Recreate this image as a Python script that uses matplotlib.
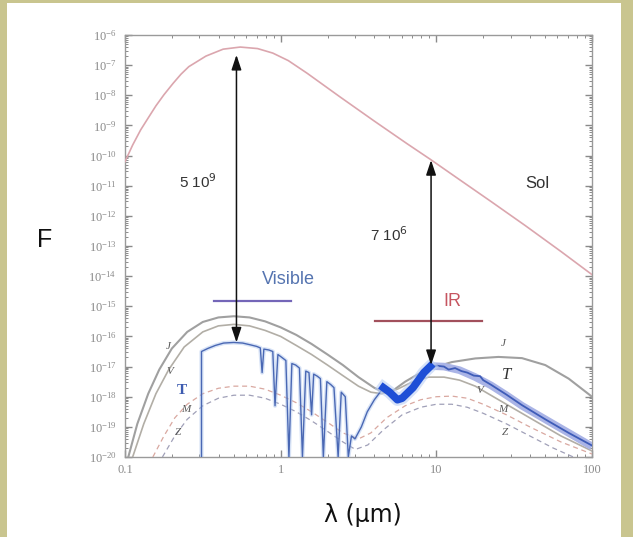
import numpy as np
import matplotlib
matplotlib.use("Agg")
import matplotlib.pyplot as plt
from matplotlib.patches import Rectangle
from matplotlib.ticker import LogLocator, LogFormatterMathtext, NullFormatter

# ---- spectra: wavelength (um) and log10 of flux ----
sol_lam = [0.10, 0.112, 0.126, 0.141, 0.158, 0.178, 0.204, 0.229, 0.257, 0.331, 0.427,
           0.55, 0.71, 0.89, 1.12, 1.48, 2.40, 3.98, 6.46, 9.12, 14.1, 22.4, 37.2, 63.1, 100.0]
sol_logF = [-10.2, -9.65, -9.15, -8.75, -8.35, -7.98, -7.6, -7.3, -7.05, -6.7, -6.47,
            -6.4, -6.45, -6.6, -6.85, -7.27, -8.05, -8.85, -9.6, -10.12, -10.8, -11.52, -12.32, -13.18, -13.95]

jup_lam = [0.105, 0.120, 0.141, 0.166, 0.200, 0.251, 0.316, 0.398, 0.501, 0.631, 0.794, 1.0, 1.26,
           1.58, 2.0, 2.51, 3.16, 3.98, 4.57, 5.25, 6.31, 7.94, 10.0, 12.6, 17.8, 25.1, 35.5, 50.1, 70.8, 100.0]
jup_logF = [-20.0, -18.9, -17.9, -17.1, -16.4, -15.85, -15.52, -15.37, -15.33, -15.37, -15.5, -15.7, -15.95,
            -16.25, -16.6, -16.95, -17.35, -17.7, -17.85, -17.8, -17.5, -17.2, -17.0, -16.85, -16.73, -16.68,
            -16.72, -16.95, -17.4, -18.0]

ven_lam = [0.112, 0.132, 0.158, 0.191, 0.240, 0.316, 0.398, 0.501, 0.631, 0.794, 1.0, 1.26, 1.58,
           2.0, 2.51, 3.16, 3.80, 4.47, 5.62, 7.08, 8.91, 11.2, 14.1, 17.8, 25.1, 39.8, 63.1, 100.0]
ven_logF = [-20.0, -18.9, -17.9, -17.1, -16.35, -15.85, -15.65, -15.6, -15.65, -15.8, -16.0, -16.3, -16.6,
            -16.95, -17.3, -17.65, -17.85, -17.9, -17.75, -17.5, -17.35, -17.35, -17.45, -17.65, -18.1,
            -18.7, -19.3, -19.8]

# Earth: reflected visible spectrum with absorption bands
earth_vis_lam = [0.31, 0.31, 0.34, 0.38, 0.43, 0.50, 0.57, 0.64, 0.70, 0.74, 0.76, 0.78, 0.84, 0.89,
                 0.92, 0.96, 1.02, 1.08, 1.13, 1.18, 1.25, 1.32, 1.38, 1.45, 1.52, 1.58, 1.63, 1.72,
                 1.80, 1.88, 1.98, 2.10, 2.20, 2.34, 2.45, 2.60, 2.72, 2.85, 3.0, 3.3, 3.6, 4.0, 4.5]
earth_vis_logF = [-20.0, -16.5, -16.4, -16.3, -16.22, -16.2, -16.22, -16.28, -16.33, -16.38, -17.2,
                  -16.42, -16.45, -16.5, -18.3, -16.6, -16.7, -16.8, -20.0, -16.9, -16.95, -17.05, -20.0,
                  -17.15, -17.2, -18.6, -17.25, -17.32, -17.4, -20.0, -17.5, -17.6, -17.7, -20.0, -17.85,
                  -18.0, -20.0, -19.3, -19.4, -19.0, -18.5, -18.1, -17.75]

# Earth: measured thermal emission 4.5-9 um
earth_mir_lam = [4.57, 5.01, 5.62, 6.03, 7.08, 8.32, 9.12]
earth_mir_logF = [-17.7, -17.85, -18.1, -18.05, -17.7, -17.2, -17.0]

# Earth: thermal continuum beyond 9 um
earth_ir_lam = [8.91, 11.2, 14.1, 17.8, 22.4, 28.2, 35.5, 44.7, 56.2, 70.8, 100.0]
earth_ir_logF = [-16.98, -17.0, -17.12, -17.35, -17.62, -17.95, -18.3, -18.6, -18.9, -19.2, -19.65]
earth_line_lam = [8.91, 10.0, 11.2, 12.0, 13.2, 14.5, 15.8, 17.4, 19.1, 20.0, 22.4, 28.2, 35.5, 50.1, 70.8, 100.0]
earth_line_logF = [-16.98, -16.97, -17.0, -17.1, -17.05, -17.15, -17.2, -17.3, -17.32, -17.45, -17.6,
                   -17.93, -18.28, -18.75, -19.2, -19.62]

mars_lam = [0.151, 0.178, 0.209, 0.251, 0.316, 0.398, 0.501, 0.631, 0.794, 1.0, 1.26, 1.58, 2.0, 2.51,
            3.16, 3.80, 4.79, 6.31, 7.94, 10.0, 12.6, 15.8, 20.0, 28.2, 39.8, 63.1, 100.0]
mars_logF = [-20.0, -19.3, -18.7, -18.25, -17.9, -17.72, -17.65, -17.65, -17.75, -17.95, -18.2, -18.5,
             -18.85, -19.2, -19.4, -19.2, -18.7, -18.3, -18.1, -18.0, -17.98, -18.05, -18.25, -18.6,
             -19.0, -19.5, -19.9]

zod_lam = [0.174, 0.209, 0.251, 0.316, 0.398, 0.501, 0.631, 0.794, 1.0, 1.26, 1.58, 2.0, 2.51, 3.02,
           3.63, 4.57, 6.03, 7.94, 10.0, 12.6, 15.8, 20.0, 28.2, 39.8, 56.2, 75.9]
zod_logF = [-20.0, -19.3, -18.75, -18.3, -18.05, -17.95, -17.95, -18.05, -18.25, -18.5, -18.8, -19.15,
            -19.5, -19.75, -19.6, -19.1, -18.6, -18.35, -18.25, -18.25, -18.35, -18.55, -18.9, -19.3,
            -19.7, -20.0]

# contrast arrows: (wavelength, log F top, log F bottom)
arrow_vis = (0.52, -6.66, -16.2)
arrow_ir = (9.25, -10.15, -16.95)

# spectral band markers: (lam start, lam end, log F)
band_vis = (0.373, 1.16, -14.82)
band_ir = (4.04, 19.6, -15.5)

x_ticks = [0.1, 1, 10, 100]
x_ticklabels = ["0.1", "1", "10", "100"]


def flux(v):
    return 10.0 ** np.asarray(v, dtype=float)


fig = plt.figure(figsize=(6.33, 5.37), dpi=100)
fig.patch.set_facecolor("#c9c58f")
fig.add_artist(Rectangle((7 / 633, 0), (621 - 7) / 633, 1 - 3 / 537,
                         transform=fig.transFigure, facecolor="white", edgecolor="none", zorder=0))

ax = fig.add_axes([125 / 633, 1 - 457 / 537, (592 - 125) / 633, (457 - 35) / 537])
ax.set_xscale("log")
ax.set_yscale("log")
ax.set_xlim(0.1, 100)
ax.set_ylim(1e-20, 1e-6)
ax.set_facecolor("none")

gray = "#a0a0a0"
ax.plot(sol_lam, flux(sol_logF), color="#dba6ae", lw=1.2, zorder=3)
ax.plot(jup_lam, flux(jup_logF), color=gray, lw=1.5, zorder=3)
ax.plot(ven_lam, flux(ven_logF), color="#b2aea6", lw=1.2, zorder=3)
ax.plot(mars_lam, flux(mars_logF), color="#d9a8a0", lw=0.9, ls=(0, (4, 3)), zorder=3)
ax.plot(zod_lam, flux(zod_logF), color="#a0a0b8", lw=0.9, ls=(0, (4, 3)), zorder=3)

ax.plot(earth_vis_lam, flux(earth_vis_logF), color="#a9c2ec", lw=3.0, alpha=0.45, zorder=3)
ax.plot(earth_vis_lam, flux(earth_vis_logF), color="#4a68b4", lw=1.0, zorder=4)
ax.plot(earth_ir_lam, flux(earth_ir_logF), color="#aab4e6", lw=5.5, solid_capstyle="butt", zorder=3)
ax.plot(earth_line_lam, flux(earth_line_logF), color="#3e5cb8", lw=1.3, zorder=4)
ax.plot(earth_mir_lam, flux(earth_mir_logF), color="#bcd0f4", lw=9, alpha=0.6, zorder=4)
ax.plot(earth_mir_lam, flux(earth_mir_logF), color="#1e4fd6", lw=5.5, zorder=5)

for lam, top, bot in (arrow_vis, arrow_ir):
    ax.annotate("", xy=(lam, 10.0 ** top), xytext=(lam, 10.0 ** bot),
                arrowprops=dict(arrowstyle="<|-|>,head_length=0.9,head_width=0.3",
                                color="#111111", lw=1.1, shrinkA=0, shrinkB=0), zorder=6)

ax.plot(band_vis[:2], flux([band_vis[2]] * 2), color="#7466b8", lw=1.6, zorder=5)
ax.plot(band_ir[:2], flux([band_ir[2]] * 2), color="#a2505c", lw=1.6, zorder=5)

sans = "Liberation Sans"
ax.text(0.294, 10 ** -10.86, r"5 10$^9$", fontsize=11, color="#333333", family=sans,
        ha="center", va="center")
ax.text(5.0, 10 ** -12.62, r"7 10$^6$", fontsize=11, color="#333333", family=sans,
        ha="center", va="center")
ax.text(44.3, 10 ** -10.91, "Sol", fontsize=12, color="#333333", family=sans,
        ha="center", va="center")
ax.text(1.12, 10 ** -14.1, "Visible", fontsize=13, color="#5574b0", family=sans,
        ha="center", va="center")
ax.text(12.6, 10 ** -14.83, "IR", fontsize=13, color="#c65560", family=sans,
        ha="center", va="center")

serif = "Liberation Serif"
planet_labels = [
    ("J", 0.189, -16.32, "#555555", "normal", 8),
    ("V", 0.194, -17.18, "#555555", "normal", 8),
    ("T", 0.232, -17.78, "#3e5cb0", "bold", 11),
    ("M", 0.247, -18.41, "#555555", "normal", 8),
    ("Z", 0.219, -19.2, "#555555", "normal", 8),
    ("J", 26.8, -16.25, "#555555", "normal", 8),
    ("T", 28.4, -17.28, "#333333", "normal", 12),
    ("V", 19.1, -17.78, "#555555", "normal", 8),
    ("M", 26.8, -18.41, "#555555", "normal", 8),
    ("Z", 27.5, -19.2, "#555555", "normal", 8),
]
for s, lx, ly, c, w, fs in planet_labels:
    ax.text(lx, 10 ** ly, s, fontsize=fs, color=c, fontweight=w, family=serif,
            fontstyle="italic" if w == "normal" else "normal", ha="center", va="center", zorder=7)

# axes frame and ticks
for sp in ax.spines.values():
    sp.set_color("#9a9a9a")
    sp.set_linewidth(1.0)
ax.yaxis.set_major_locator(LogLocator(base=10, numticks=20))
ax.yaxis.set_minor_locator(LogLocator(base=10, subs=np.arange(2, 10), numticks=20))
ax.yaxis.set_major_formatter(LogFormatterMathtext())
ax.yaxis.set_minor_formatter(NullFormatter())
ax.set_xticks(x_ticks)
ax.set_xticklabels(x_ticklabels)
ax.xaxis.set_minor_locator(LogLocator(base=10, subs=np.arange(2, 10), numticks=10))
ax.xaxis.set_minor_formatter(NullFormatter())
ax.tick_params(which="both", direction="in", top=True, right=True, color="#8a8a8a")
ax.tick_params(which="major", length=5, width=1.0)
ax.tick_params(which="minor", length=2.5, width=0.7)
ax.tick_params(axis="y", labelsize=9, labelcolor="#8a8a8a", pad=6)
ax.tick_params(axis="x", labelsize=9, labelcolor="#8a8a8a", pad=5)
for lab in ax.get_yticklabels() + ax.get_xticklabels():
    lab.set_family(serif)

fig.text(45 / 633, 1 - 240 / 537, "F", fontsize=18, color="#111111", family=sans,
         ha="center", va="center")
fig.text(363 / 633, 1 - 515 / 537, "λ (µm)", fontsize=17, color="#111111", family="DejaVu Sans",
         ha="center", va="center")

fig.savefig("out.png", dpi=100, facecolor=fig.get_facecolor())
